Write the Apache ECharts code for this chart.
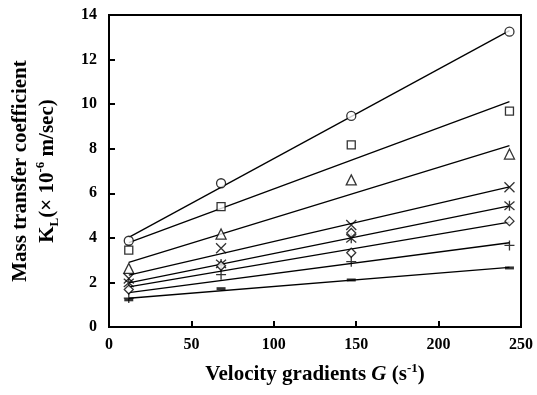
<!DOCTYPE html>
<html>
<head>
<meta charset="utf-8">
<script src="https://cdn.jsdelivr.net/npm/echarts@6/dist/echarts.min.js"></script>
<style>
  html, body { margin: 0; padding: 0; background: #fff; }
  #chart { width: 537px; height: 395px; }
</style>
</head>
<body>
<div id="chart"></div>
<script>
// velocity gradient G (s^-1) at which K_L was measured
var gradients = [12, 68, 147, 243]

// measured K_L (x 10^-6 m/sec), one list per symbol
var circleK = [3.87, 6.45, 9.47, 13.25]
var squareK = [3.45, 5.40, 8.17, 9.69]
var triangleK = [2.63, 4.17, 6.60, 7.76]
var crossK = [2.18, 3.53, 4.58, 6.27]
var starK = [1.98, 2.83, 3.98, 5.44]
var diamondG = [12, 68, 147, 147, 243]
var diamondK = [1.68, 2.75, 3.33, 4.22, 4.75]
var plusK = [1.30, 2.35, 2.93, 3.66]
var dashK = [1.22, 1.72, 2.11, 2.65]

// fitted lines, value at first and last G
var fitG = [12, 243]
var fitStart = [4.02, 3.79, 2.90, 2.33, 1.98, 1.80, 1.54, 1.29]
var fitEnd = [13.30, 10.11, 8.14, 6.29, 5.44, 4.71, 3.78, 2.68]

var xTicks = { min: 0, max: 250, interval: 50 }
var yTicks = { min: 0, max: 14, interval: 2 }

var serif = "'Liberation Serif', 'Times New Roman', serif"

function pairs (xs, ys) {
  return ys.map(function (v, i) { return [xs[i], v] })
}

function markers (data, symbol, size) {
  return {
    type: 'scatter',
    data: data,
    symbol: symbol,
    symbolSize: size,
    itemStyle: { color: '#fff', borderColor: '#000', borderWidth: 1.3 },
    z: 3
  }
}

var series = []
fitStart.forEach(function (v, i) {
  series.push({
    type: 'line',
    data: [[fitG[0], v], [fitG[1], fitEnd[i]]],
    symbol: 'none',
    lineStyle: { color: '#000', width: 1.3 },
    silent: true,
    z: 2
  })
})

series.push(markers(pairs(gradients, circleK), 'circle', 9))
series.push(markers(pairs(gradients, squareK), 'rect', 8))
series.push(markers(pairs(gradients, triangleK), 'triangle', 10))
series.push(markers(pairs(gradients, crossK), 'path://M0,0L10,10M10,0L0,10', 10))
series.push(markers(pairs(gradients, starK), 'path://M0,0L10,10M10,0L0,10M5,-1L5,11', 10))
series.push(markers(pairs(diamondG, diamondK), 'diamond', 9))
series.push(markers(pairs(gradients, plusK), 'path://M0,5L10,5M5,0L5,10', 10))
series.push({
  type: 'scatter',
  data: pairs(gradients, dashK),
  symbol: 'rect',
  symbolSize: [9, 3],
  itemStyle: { color: '#000' },
  z: 3
})

var labelStyle = { color: '#000', fontFamily: serif, fontWeight: 'bold', fontSize: 16 }

function titleText (extra) {
  return Object.assign({ fontFamily: serif, fontWeight: 'bold', color: '#000' }, extra)
}

var option = {
  backgroundColor: '#fff',
  animation: false,
  grid: {
    left: 109,
    right: 16,
    top: 15,
    bottom: 68,
    show: true,
    borderColor: '#000',
    borderWidth: 2
  },
  xAxis: {
    type: 'value',
    min: xTicks.min,
    max: xTicks.max,
    interval: xTicks.interval,
    splitLine: { show: false },
    axisLine: { lineStyle: { color: '#000', width: 2 } },
    axisTick: { inside: true, length: 6, lineStyle: { color: '#000', width: 2 } },
    axisLabel: Object.assign({ margin: 10 }, labelStyle),
    name: '{a|Velocity gradients }{i|G}{a| (s}{sup|-1}{a|)}',
    nameLocation: 'middle',
    nameGap: 35,
    nameTextStyle: {
      rich: {
        a: titleText({ fontSize: 21, lineHeight: 26 }),
        i: titleText({ fontStyle: 'italic', fontSize: 21, lineHeight: 26 }),
        sup: titleText({ fontSize: 13, lineHeight: 16, verticalAlign: 'top' })
      }
    }
  },
  yAxis: {
    type: 'value',
    min: yTicks.min,
    max: yTicks.max,
    interval: yTicks.interval,
    splitLine: { show: false },
    axisLine: { lineStyle: { color: '#000', width: 2 } },
    axisTick: { inside: true, length: 6, lineStyle: { color: '#000', width: 2 } },
    axisLabel: Object.assign({ margin: 12 }, labelStyle),
    name: '{a|Mass transfer coefficient}\n{a|K}{sub|L}{a|(× 10}{sup|-6}{a| m/sec)}',
    nameLocation: 'middle',
    nameRotate: 90,
    nameGap: 48,
    nameTextStyle: {
      rich: {
        a: titleText({ fontSize: 21, lineHeight: 27 }),
        sub: titleText({ fontSize: 13, lineHeight: 15, verticalAlign: 'bottom' }),
        sup: titleText({ fontSize: 13, lineHeight: 15, verticalAlign: 'top' })
      }
    }
  },
  series: series
}

var myChart = echarts.init(document.getElementById('chart'))
myChart.setOption(option)
</script>
</body>
</html>
